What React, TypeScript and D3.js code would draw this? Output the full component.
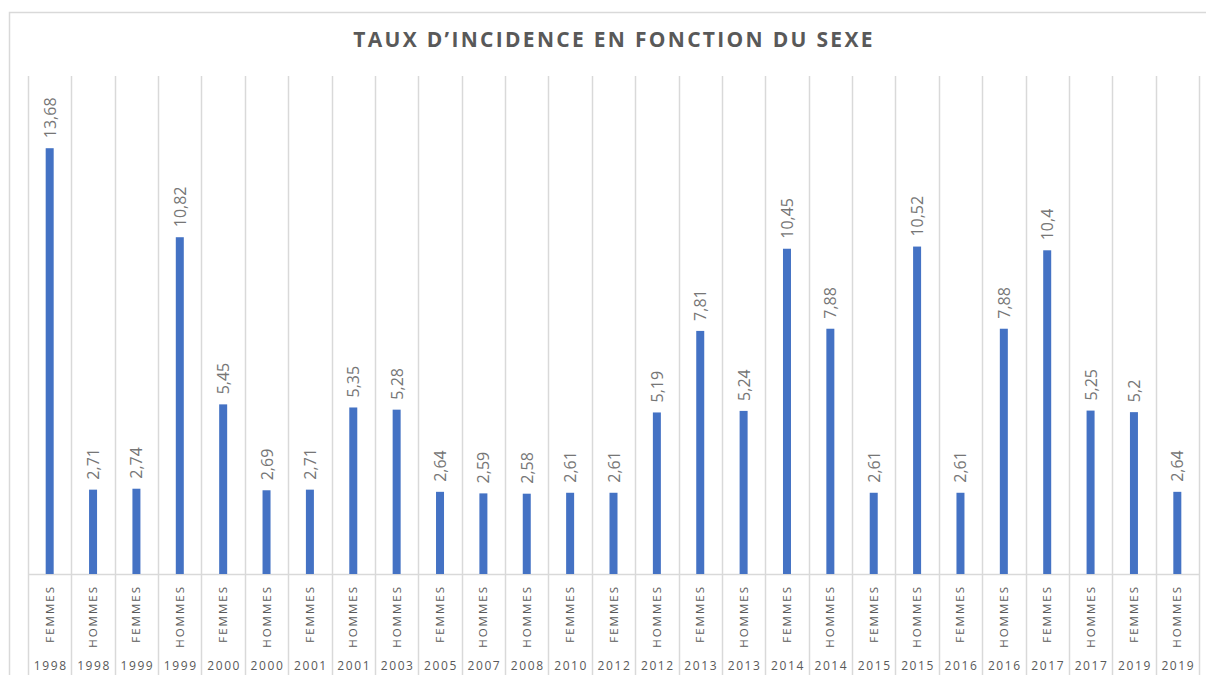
import * as React from 'react';
import * as d3 from 'd3';

const years = ['1998', '1998', '1999', '1999', '2000', '2000', '2001', '2001', '2003', '2005', '2007', '2008', '2010', '2012',
	'2012', '2013', '2013', '2014', '2014', '2015', '2015', '2016', '2016', '2017', '2017', '2019', '2019'];
const sexes = ['FEMMES', 'HOMMES', 'FEMMES', 'HOMMES', 'FEMMES', 'HOMMES', 'FEMMES', 'HOMMES', 'HOMMES', 'FEMMES', 'HOMMES',
	'HOMMES', 'FEMMES', 'FEMMES', 'HOMMES', 'FEMMES', 'HOMMES', 'FEMMES', 'HOMMES', 'FEMMES', 'HOMMES', 'FEMMES', 'HOMMES',
	'FEMMES', 'HOMMES', 'FEMMES', 'HOMMES'];
const rates = [13.68, 2.71, 2.74, 10.82, 5.45, 2.69, 2.71, 5.35, 5.28, 2.64, 2.59, 2.58, 2.61, 2.61, 5.19, 7.81, 5.24, 10.45,
	7.88, 2.61, 10.52, 2.61, 7.88, 10.4, 5.25, 5.2, 2.64];
const yMax = 16;

const W = 1206, H = 675;
const FONT = '"Open Sans", "Liberation Sans", sans-serif';

const draw = (svgNode) => {
	const svg = d3.select(svgNode);
	svg.html('');

	// chart frame (right and bottom edges are cut off in the original)
	svg.append('path')
		.attr('d', `M9.5,${H} V12.5 H${W}`)
		.attr('fill', 'none')
		.attr('stroke', '#d9d9d9')
		.attr('stroke-width', 1.5);

	svg.append('text')
		.attr('x', 614)
		.attr('y', 47)
		.attr('text-anchor', 'middle')
		.style('font-family', FONT)
		.style('font-size', '21px')
		.style('font-weight', 'bold')
		.style('letter-spacing', '2.3px')
		.attr('fill', '#595959')
		.text('TAUX D\u2019INCIDENCE EN FONCTION DU SEXE');

	const idx = rates.map((_, i) => i);
	const x = d3.scaleBand<number>().domain(idx).range([28, 1199]).padding(0);
	const y = d3.scaleLinear().domain([0, yMax]).range([574, 76]);

	// category separators, running down through the label rows
	const seps = idx.map(i => x(i)).concat([x.range()[1]]);
	svg.append('g').selectAll('line')
		.data(seps)
		.enter().append('line')
		.attr('x1', d => Math.round(d) + 0.5)
		.attr('x2', d => Math.round(d) + 0.5)
		.attr('y1', y(yMax))
		.attr('y2', H)
		.attr('stroke', '#d9d9d9')
		.attr('stroke-width', 1.5);

	svg.append('line')
		.attr('x1', x.range()[0])
		.attr('x2', x.range()[1])
		.attr('y1', y(0) + 0.5)
		.attr('y2', y(0) + 0.5)
		.attr('stroke', '#d9d9d9')
		.attr('stroke-width', 1.5);

	const barW = 8;
	svg.append('g').selectAll('rect')
		.data(rates)
		.enter().append('rect')
		.attr('x', (d, i) => x(i) + x.bandwidth() / 2 - barW / 2)
		.attr('y', d => y(d))
		.attr('width', barW)
		.attr('height', d => y(0) - y(d))
		.attr('fill', '#4472c4');

	// value labels
	svg.append('g').selectAll('text')
		.data(rates)
		.enter().append('text')
		.attr('transform', (d, i) => `translate(${x(i) + x.bandwidth() / 2 + 6},${y(d) - 10}) rotate(-90)`)
		.style('font-family', FONT)
		.style('font-size', '16px')
		.attr('fill', '#767676')
		.text(d => String(d).replace('.', ','));

	// sex labels
	svg.append('g').selectAll('text')
		.data(sexes)
		.enter().append('text')
		.attr('transform', (d, i) => `translate(${x(i) + x.bandwidth() / 2 + 4},585) rotate(-90)`)
		.attr('text-anchor', 'end')
		.style('font-family', FONT)
		.style('font-size', '11.5px')
		.style('letter-spacing', '2px')
		.attr('fill', '#595959')
		.text(d => d);

	// year labels
	svg.append('g').selectAll('text')
		.data(years)
		.enter().append('text')
		.attr('x', (d, i) => x(i) + x.bandwidth() / 2 + 1)
		.attr('y', 670)
		.attr('text-anchor', 'middle')
		.style('font-family', FONT)
		.style('font-size', '12px')
		.style('letter-spacing', '1.6px')
		.attr('fill', '#595959')
		.text(d => d);
};

export default function App() {
	const ref = React.useRef<SVGSVGElement>(null);

	React.useEffect(() => {
		draw(ref.current);
	}, []);

	return (
		<svg
			ref={ref}
			width={W}
			height={H}
			style={{position: 'absolute', left: 0, top: 0, background: '#fff'}}
		/>
	);
}
